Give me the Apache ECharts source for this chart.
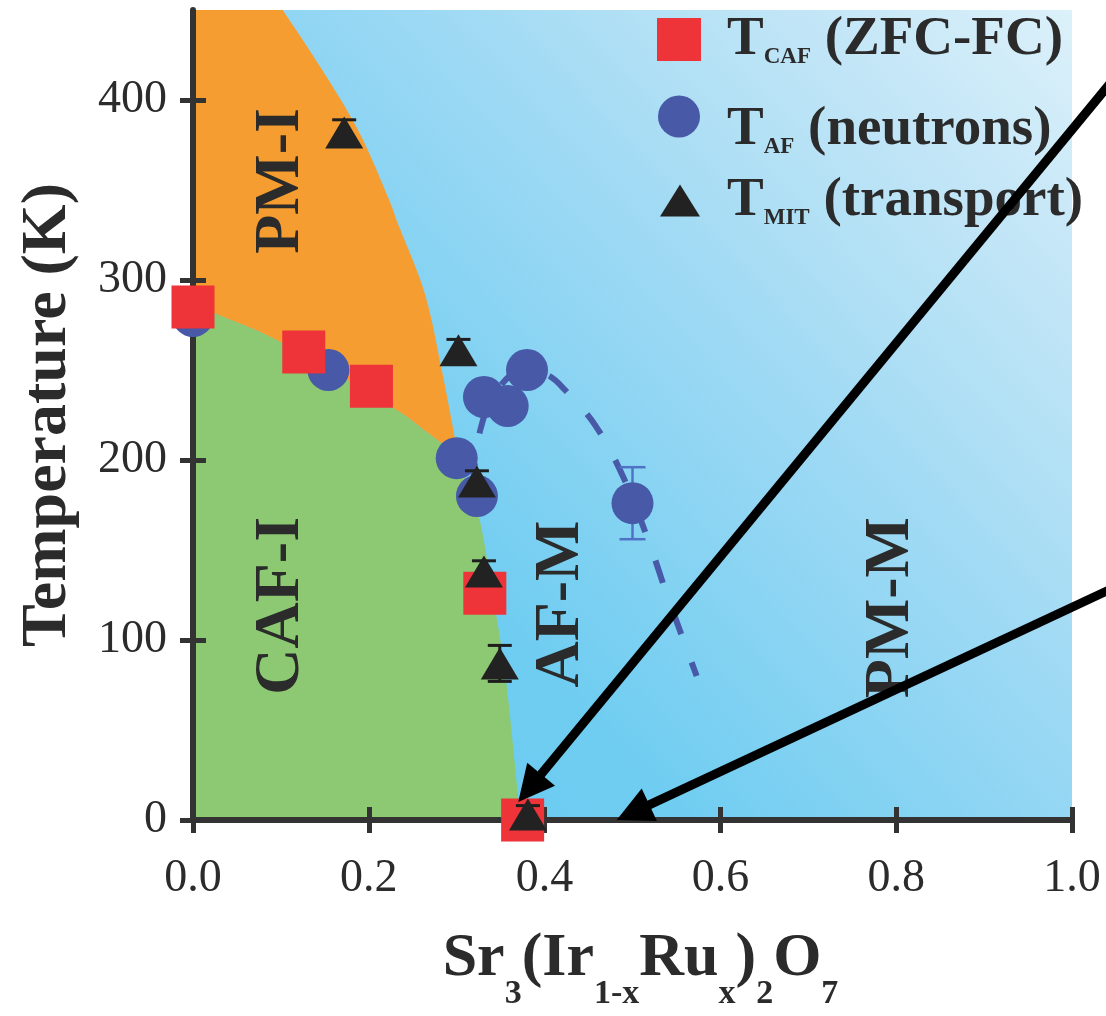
<!DOCTYPE html>
<html>
<head>
<meta charset="utf-8">
<title>Sr3(Ir1-xRux)2O7 phase diagram</title>
<script src="https://cdn.jsdelivr.net/npm/echarts@6/dist/echarts.min.js"></script>
<style>
  html, body { margin: 0; padding: 0; background: #ffffff; }
  #chart { width: 1106px; height: 1016px; }
</style>
</head>
<body>
<div id="chart"></div>
<script>
// ---- axis ticks ----
const xTickValues = [0, 0.2, 0.4, 0.6, 0.8, 1.0];
const yTickValues = [0, 100, 200, 300, 400];

// ---- T_CAF from ZFC-FC magnetization ----
const cafX = [0.000, 0.126, 0.203, 0.332, 0.375];
const cafT = [285, 260, 241, 126, 0];

// ---- T_AF from neutron scattering ----
const afX = [0.000, 0.154, 0.300, 0.323, 0.331, 0.358, 0.380, 0.500];
const afT = [280, 250, 201, 180, 235, 230, 250, 176];
const afErr = [0, 0, 0, 0, 0, 0, 0, 20];

// ---- T_MIT from transport ----
const mitX = [0.172, 0.302, 0.323, 0.331, 0.349, 0.381];
const mitT = [382, 261, 188, 138, 87, 3];
const mitErr = [7, 6, 6, 6, 10, 5];

// ---- dashed guide through the T_AF points ----
const guideX = [0.318, 0.327, 0.345, 0.375, 0.404, 0.423, 0.458, 0.490, 0.519, 0.540, 0.573];
const guideT = [185, 217, 238, 250, 247, 239, 219, 190, 154, 124, 80];

// ---- phase boundaries ----
// PM-I / metal boundary: top of the frame down to the triple point
const pmiEdgeX = [0.102, 0.144, 0.188, 0.221, 0.235, 0.264, 0.283, 0.302];
const pmiEdgeT = [450, 419, 383, 347, 329, 292, 250, 202];
// PM-I / CAF-I boundary: x = 0 to the triple point
const cafTopX = [0.000, 0.027, 0.102, 0.224, 0.262, 0.302];
const cafTopT = [288, 281, 265, 230, 217, 202];
// CAF-I / AF-M boundary: triple point down to T = 0
const cafEdgeX = [0.302, 0.313, 0.327, 0.346, 0.357, 0.370, 0.372];
const cafEdgeT = [202, 185, 165, 111, 74, 12, 0];

// ---- phase labels ----
const phaseNames = ['PM-I', 'CAF-I', 'AF-M', 'PM-M'];
const phaseX = [0.101, 0.101, 0.419, 0.795];
const phaseT = [355, 119, 120, 118];

// ---- arrows pointing at the critical compositions (tail -> head) ----
const arrowTailX = [1.043, 1.043];
const arrowTailT = [409, 128];
const arrowHeadX = [0.370, 0.482];
const arrowHeadT = [10, 0];

const X_MIN = 0, X_MAX = 1.0, T_MIN = 0, T_MAX = 450;

const SERIF = "'Liberation Serif', 'DejaVu Serif', serif";
const INK = '#2b2b2b';
const AXIS = '#333333';
const ORANGE = '#F59D30';
const GREEN = '#8DC972';
const RED = '#EE3339';
const NAVY = '#4759A7';

const seriesNames = ['T_CAF (ZFC-FC)', 'T_AF (neutrons)', 'T_MIT (transport)'];

const chart = echarts.init(document.getElementById('chart'), null, { renderer: 'canvas' });

// Catmull-Rom curve through pixel points, as cubic Bezier path commands
function curveThrough(pts) {
  let d = '';
  for (let i = 0; i < pts.length - 1; i++) {
    const p0 = pts[i - 1] || pts[i], p1 = pts[i], p2 = pts[i + 1], p3 = pts[i + 2] || pts[i + 1];
    const c1x = p1[0] + (p2[0] - p0[0]) / 6, c1y = p1[1] + (p2[1] - p0[1]) / 6;
    const c2x = p2[0] - (p3[0] - p1[0]) / 6, c2y = p2[1] - (p3[1] - p1[1]) / 6;
    d += ' C ' + [c1x, c1y, c2x, c2y, p2[0], p2[1]].map(v => v.toFixed(2)).join(' ');
  }
  return d;
}

function toPixels(api, xs, ts) {
  return xs.map((x, i) => api.coord([x, ts[i]]));
}

// PM-I: frame top-left corner, down the T axis, along both curved boundaries
function orangeRegion(params, api) {
  const corner = api.coord([X_MIN, T_MAX]);
  const lower = toPixels(api, cafTopX, cafTopT);
  const upper = toPixels(api, pmiEdgeX, pmiEdgeT).reverse();
  const d = 'M ' + corner[0] + ' ' + corner[1] + ' L ' + lower[0][0] + ' ' + lower[0][1] +
    curveThrough(lower) + curveThrough(upper) + ' Z';
  return { type: 'path', shape: { pathData: d }, style: { fill: ORANGE } };
}

// CAF-I: origin, up the T axis, along the PM-I edge and down the AF-M edge
function greenRegion(params, api) {
  const origin = api.coord([X_MIN, T_MIN]);
  const top = toPixels(api, cafTopX, cafTopT);
  const side = toPixels(api, cafEdgeX, cafEdgeT);
  const d = 'M ' + origin[0] + ' ' + origin[1] + ' L ' + top[0][0] + ' ' + top[0][1] +
    curveThrough(top) + curveThrough(side) + ' Z';
  return { type: 'path', shape: { pathData: d }, style: { fill: GREEN } };
}

const blueFill = new echarts.graphic.LinearGradient(0, 1, 1, 0, [
  { offset: 0.00, color: '#66C9EF' },
  { offset: 0.30, color: '#6FCDF1' },
  { offset: 0.50, color: '#8ED5F3' },
  { offset: 0.62, color: '#A0DAF4' },
  { offset: 0.72, color: '#B1E0F5' },
  { offset: 0.84, color: '#C3E6F7' },
  { offset: 1.00, color: '#DCF1FA' }
]);

function backgroundRegion(params, api) {
  const a = api.coord([X_MIN, T_MIN]);
  const b = api.coord([X_MAX, T_MAX]);
  return {
    type: 'rect',
    shape: { x: a[0], y: b[1], width: b[0] - a[0], height: a[1] - b[1] },
    style: { fill: blueFill }
  };
}

function errorBarRenderer(color, cap, width) {
  return function (params, api) {
    const x = api.value(0), y = api.value(1), e = api.value(2);
    if (!e) return null;
    const lo = api.coord([x, y - e]);
    const hi = api.coord([x, y + e]);
    const style = { stroke: color, lineWidth: width };
    return {
      type: 'group',
      children: [
        { type: 'line', shape: { x1: lo[0], y1: lo[1], x2: hi[0], y2: hi[1] }, style: style },
        { type: 'line', shape: { x1: lo[0] - cap, y1: lo[1], x2: lo[0] + cap, y2: lo[1] }, style: style },
        { type: 'line', shape: { x1: hi[0] - cap, y1: hi[1], x2: hi[0] + cap, y2: hi[1] }, style: style }
      ]
    };
  };
}

function arrowRenderer(params, api) {
  const tail = api.coord([api.value(0), api.value(1)]);
  const tip = api.coord([api.value(2), api.value(3)]);
  const dx = tip[0] - tail[0], dy = tip[1] - tail[1];
  const len = Math.hypot(dx, dy);
  const ux = dx / len, uy = dy / len;
  const headLen = 36, headHalf = 18;
  const bx = tip[0] - ux * headLen, by = tip[1] - uy * headLen;
  return {
    type: 'group',
    children: [
      { type: 'line', shape: { x1: tail[0], y1: tail[1], x2: bx + ux * 6, y2: by + uy * 6 },
        style: { stroke: '#000', lineWidth: 9 } },
      { type: 'polygon', shape: { points: [tip, [bx - uy * headHalf, by + ux * headHalf], [bx + uy * headHalf, by - ux * headHalf]] },
        style: { fill: '#000' } }
    ]
  };
}

function phaseLabelRenderer(params, api) {
  const p = api.coord([api.value(0), api.value(1)]);
  return {
    type: 'text', x: p[0], y: p[1], rotation: Math.PI / 2,
    style: {
      text: phaseNames[params.dataIndex], fill: INK,
      font: 'bold 64px ' + SERIF, align: 'center', verticalAlign: 'middle'
    }
  };
}

function legendEntry(name, left, top, w, h, padLeft, shift) {
  const m = name.match(/^T_(\S+) (.*)$/);
  return {
    data: [name], left: left, top: top, padding: 0, itemGap: 0,
    itemWidth: w, itemHeight: h, selectedMode: false,
    formatter: function () { return '{f|T}{s|' + m[1] + '}{t| ' + m[2] + '}'; },
    textStyle: {
      rich: {
        f: { fontFamily: SERIF, fontWeight: 'bold', fontSize: 55, color: INK, lineHeight: 60, padding: [shift, 0, 0, padLeft] },
        t: { fontFamily: SERIF, fontWeight: 'bold', fontSize: 55, color: INK, lineHeight: 60, padding: [shift, 0, 0, 0] },
        s: { fontFamily: SERIF, fontWeight: 'bold', fontSize: 23, color: INK, lineHeight: 24, padding: [36 + shift, 0, 0, 0] }
      }
    }
  };
}

function valueAxis(extra) {
  return Object.assign({
    type: 'value', z: 1,
    splitLine: { show: false },
    axisLine: { show: true, onZero: false, lineStyle: { color: AXIS, width: 6 } },
    axisTick: { show: true, inside: false, length: 13, lineStyle: { color: AXIS, width: 5 } },
    axisLabel: { show: true, fontFamily: SERIF, fontSize: 46, color: INK }
  }, extra);
}

const option = {
  animation: false,
  backgroundColor: '#ffffff',
  grid: { left: 193, right: 34, top: 10, bottom: 180, containLabel: false },
  legend: [
    legendEntry(seriesNames[0], 657, 10, 44, 43, 21, 0),
    legendEntry(seriesNames[1], 658, 74, 42, 42, 22, 26),
    legendEntry(seriesNames[2], 660, 171, 40, 32, 22, 0)
  ],
  xAxis: [
    valueAxis({
      min: X_MIN, max: X_MAX, interval: 0.2, position: 'bottom',
      axisTick: { show: true, inside: false, length: 13, customValues: xTickValues, lineStyle: { color: AXIS, width: 5 } },
      axisLabel: { show: true, customValues: xTickValues, margin: 36, fontFamily: SERIF, fontSize: 46, color: INK,
        formatter: function (v) { return v.toFixed(1); } },
      name: '{m|Sr}{s|3}{m|(Ir}{s|1-x}{m|Ru}{s|x}{m|)}{s|2}{m|O}{s|7}',
      nameLocation: 'middle', nameGap: 89,
      nameTextStyle: {
        padding: [0, 0, 0, 16],
        rich: {
          m: { fontFamily: SERIF, fontWeight: 'bold', fontSize: 62, color: INK, lineHeight: 100 },
          s: { fontFamily: SERIF, fontWeight: 'bold', fontSize: 34, color: INK, lineHeight: 34, padding: [70, 0, 0, 0] }
        }
      }
    }),
    valueAxis({
      min: X_MIN, max: X_MAX, interval: 0.2, position: 'bottom',
      axisLine: { show: false, onZero: false },
      axisTick: { show: true, inside: true, length: 13, customValues: xTickValues, lineStyle: { color: AXIS, width: 5 } },
      axisLabel: { show: false }
    })
  ],
  yAxis: [
    valueAxis({
      min: T_MIN, max: T_MAX, interval: 100, position: 'left',
      axisTick: { show: true, inside: false, length: 13, customValues: yTickValues, lineStyle: { color: AXIS, width: 5 } },
      axisLabel: { show: true, customValues: yTickValues, margin: 26, fontFamily: SERIF, fontSize: 46, color: INK },
      name: 'Temperature (K)', nameLocation: 'middle', nameRotate: 90, nameGap: 113,
      nameTextStyle: { fontFamily: SERIF, fontWeight: 'bold', fontSize: 64, color: INK }
    }),
    valueAxis({
      min: T_MIN, max: T_MAX, interval: 100, position: 'left',
      axisLine: { show: false, onZero: false },
      axisTick: { show: true, inside: true, length: 13, customValues: yTickValues, lineStyle: { color: AXIS, width: 5 } },
      axisLabel: { show: false }
    })
  ],
  series: [
    { type: 'custom', name: 'PM-M background', z: 0, silent: true, renderItem: backgroundRegion, data: [[0, 0]] },
    { type: 'custom', name: 'PM-I region', z: 0, silent: true, renderItem: orangeRegion, data: [[0, 0]] },
    { type: 'custom', name: 'CAF-I region', z: 0, silent: true, renderItem: greenRegion, data: [[0, 0]] },
    { type: 'custom', name: 'phase labels', z: 2, silent: true, renderItem: phaseLabelRenderer,
      data: phaseX.map((x, i) => [x, phaseT[i]]) },
    { type: 'line', name: 'T_AF guide', z: 2, silent: true, smooth: 0.35, showSymbol: false, symbol: 'none',
      lineStyle: { color: NAVY, width: 6, type: [24, 30], cap: 'butt' },
      data: guideX.map((x, i) => [x, guideT[i]]) },
    { type: 'custom', name: 'T_AF error', z: 3, silent: true, renderItem: errorBarRenderer('#4F73C4', 13, 2.5),
      data: afX.map((x, i) => [x, afT[i], afErr[i]]) },
    { type: 'scatter', name: seriesNames[1], z: 4, symbol: 'circle', symbolSize: 42,
      itemStyle: { color: NAVY, opacity: 1 },
      data: afX.map((x, i) => [x, afT[i]]) },
    { type: 'scatter', name: seriesNames[0], z: 5, symbol: 'rect', symbolSize: 43,
      itemStyle: { color: RED, opacity: 1 },
      data: cafX.map((x, i) => [x, cafT[i]]) },
    { type: 'custom', name: 'T_MIT error', z: 6, silent: true, renderItem: errorBarRenderer('#1e1e1e', 12, 3),
      data: mitX.map((x, i) => [x, mitT[i], mitErr[i]]) },
    { type: 'scatter', name: seriesNames[2], z: 7, symbol: 'triangle', symbolSize: [38, 32],
      itemStyle: { color: '#222222', opacity: 1 },
      data: mitX.map((x, i) => [x, mitT[i]]) },
    { type: 'custom', name: 'arrows', z: 8, silent: true, clip: false, renderItem: arrowRenderer,
      encode: { x: [0, 2], y: [1, 3] },
      data: arrowTailX.map((x, i) => [x, arrowTailT[i], arrowHeadX[i], arrowHeadT[i]]) }
  ]
};

chart.setOption(option);
</script>
</body>
</html>
